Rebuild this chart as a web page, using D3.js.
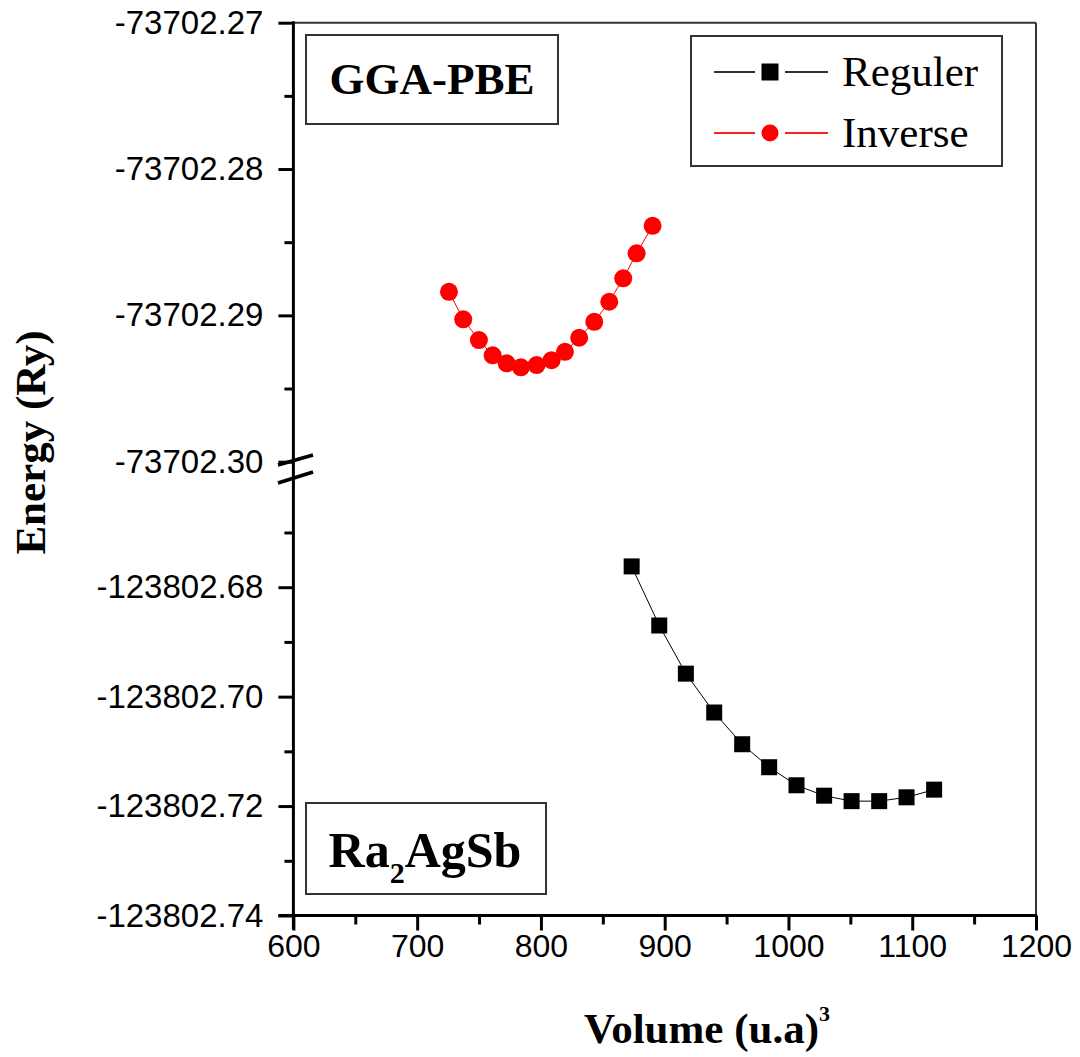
<!DOCTYPE html>
<html><head><meta charset="utf-8">
<script src="https://cdn.jsdelivr.net/npm/d3@7"></script>
<style>html,body{margin:0;padding:0;background:#fff}</style>
</head><body>
<svg id="c" width="1080" height="1057"></svg>
<script>
// ---- data ----
const regularVolume = [873.3, 895.6, 917.1, 940.0, 962.6, 984.4, 1006.5, 1028.8, 1051.0, 1073.3, 1095.4, 1117.7];
const regularEnergy = [-123802.6762, -123802.6870, -123802.6958, -123802.7029, -123802.7087, -123802.7129, -123802.7162, -123802.7181, -123802.7191, -123802.7191, -123802.7184, -123802.7170];
const inverseVolume = [725.7, 737.2, 749.9, 761.0, 772.3, 783.8, 796.5, 808.6, 819.4, 830.9, 843.1, 855.2, 866.5, 877.3, 890.2];
const inverseEnergy = [-73702.28839, -73702.29027, -73702.29169, -73702.29273, -73702.29328, -73702.29355, -73702.29340, -73702.29306, -73702.29249, -73702.29153, -73702.29044, -73702.28907, -73702.28747, -73702.28576, -73702.28388];
const xTicks = [600, 700, 800, 900, 1000, 1100, 1200];
const xMinorTicks = [650, 750, 850, 950, 1050, 1150];
const yUpperTicks = [-73702.27, -73702.28, -73702.29, -73702.30];
const yUpperMinor = [-73702.275, -73702.285, -73702.295];
const yLowerTicks = [-123802.68, -123802.70, -123802.72, -123802.74];
const yLowerMinor = [-123802.67, -123802.69, -123802.71, -123802.73];
const seriesNames = ["Reguler", "Inverse"];

// ---- layout ----
const svg = d3.select("#c");
const L = 293.4, R = 1036, T = 22.7, B = 915.5;
const x = d3.scaleLinear().domain([600, 1200]).range([L, R]);
const yUp = d3.scaleLinear().domain([-73702.30, -73702.27]).range([461.7, T]);
const yLo = d3.scaleLinear().domain([-123802.74, -123802.68]).range([B, 587.2]);

const tickFont = "'Liberation Sans', Arial, sans-serif";
const serif = "'Liberation Serif', 'Times New Roman', serif";
const fmt2 = v => d3.format(".2f")(v).replace("\u2212", "-");

// frame (top/right thin)
svg.append("line").attr("x1", L).attr("x2", R).attr("y1", T).attr("y2", T).attr("stroke", "#333").attr("stroke-width", 2);
svg.append("line").attr("x1", R).attr("x2", R).attr("y1", T).attr("y2", B).attr("stroke", "#333").attr("stroke-width", 2);

function styleAxis(g, size) {
  g.select(".domain").remove();
  g.selectAll(".tick line").attr("stroke", "#000").attr("stroke-width", 3);
  g.selectAll(".tick text").attr("font-family", tickFont).attr("font-size", size).attr("fill", "#000");
}

// x axis
const gx = svg.append("g").attr("transform", `translate(0,${B})`)
  .call(d3.axisBottom(x).tickValues(xTicks).tickSize(15).tickPadding(4).tickFormat(d3.format("d")));
styleAxis(gx, 32);
const gxm = svg.append("g").attr("transform", `translate(0,${B})`)
  .call(d3.axisBottom(x).tickValues(xMinorTicks).tickSize(9).tickFormat(""));
styleAxis(gxm, 32);

// y axes (broken)
const gyu = svg.append("g").attr("transform", `translate(${L},0)`)
  .call(d3.axisLeft(yUp).tickValues(yUpperTicks).tickSize(15).tickPadding(15).tickFormat(fmt2));
styleAxis(gyu, 33);
const gyum = svg.append("g").attr("transform", `translate(${L},0)`)
  .call(d3.axisLeft(yUp).tickValues(yUpperMinor).tickSize(9).tickFormat(""));
styleAxis(gyum, 33);
const gyl = svg.append("g").attr("transform", `translate(${L},0)`)
  .call(d3.axisLeft(yLo).tickValues(yLowerTicks).tickSize(15).tickPadding(15).tickFormat(fmt2));
styleAxis(gyl, 33);
const gylm = svg.append("g").attr("transform", `translate(${L},0)`)
  .call(d3.axisLeft(yLo).tickValues(yLowerMinor).tickSize(9).tickFormat(""));
styleAxis(gylm, 33);

// axis lines
svg.append("line").attr("x1", L).attr("x2", L).attr("y1", T - 1.5).attr("y2", B + 14).attr("stroke", "#000").attr("stroke-width", 3);
svg.append("line").attr("x1", L - 15).attr("x2", R + 1).attr("y1", B).attr("y2", B).attr("stroke", "#000").attr("stroke-width", 3);

// break marks
[[465, 455], [483, 472]].forEach(([y1, y2]) => {
  svg.append("line").attr("x1", 278).attr("y1", y1).attr("x2", 313).attr("y2", y2)
    .attr("stroke", "#000").attr("stroke-width", 3.5);
});

// series lines
const reg = regularVolume.map((v, i) => [v, regularEnergy[i]]);
const inv = inverseVolume.map((v, i) => [v, inverseEnergy[i]]);
svg.append("path").datum(reg)
  .attr("d", d3.line().x(d => x(d[0])).y(d => yLo(d[1])))
  .attr("fill", "none").attr("stroke", "#000").attr("stroke-width", 1);
svg.append("path").datum(inv)
  .attr("d", d3.line().x(d => x(d[0])).y(d => yUp(d[1])))
  .attr("fill", "none").attr("stroke", "#ff0000").attr("stroke-width", 1);

// markers
const sq = 16;
svg.append("g").selectAll("rect").data(reg).join("rect")
  .attr("x", d => x(d[0]) - sq / 2).attr("y", d => yLo(d[1]) - sq / 2)
  .attr("width", sq).attr("height", sq).attr("fill", "#000");
svg.append("g").selectAll("circle").data(inv).join("circle")
  .attr("cx", d => x(d[0])).attr("cy", d => yUp(d[1])).attr("r", 9).attr("fill", "#ff0000");

// legend
const lg = svg.append("g");
lg.append("rect").attr("x", 691).attr("y", 36).attr("width", 311).attr("height", 130)
  .attr("fill", "#fff").attr("stroke", "#333").attr("stroke-width", 2);
const legendRows = [
  { name: seriesNames[0], color: "#000", line: "#333", shape: "square", y: 72 },
  { name: seriesNames[1], color: "#ff0000", line: "#ff2020", shape: "circle", y: 133 }
];
legendRows.forEach(r => {
  [[714, 755], [785, 828]].forEach(([a, b]) => {
    lg.append("line").attr("x1", a).attr("x2", b).attr("y1", r.y).attr("y2", r.y)
      .attr("stroke", r.line).attr("stroke-width", 2);
  });
  if (r.shape === "square") {
    lg.append("rect").attr("x", 770 - 8.5).attr("y", r.y - 8.5).attr("width", 17).attr("height", 17).attr("fill", r.color);
  } else {
    lg.append("circle").attr("cx", 770).attr("cy", r.y).attr("r", 8.5).attr("fill", r.color);
  }
  lg.append("text").attr("x", 842).attr("y", r.y).attr("dy", "0.33em")
    .attr("font-family", serif).attr("font-size", 43).attr("fill", "#000").text(r.name);
});

// annotation boxes
svg.append("rect").attr("x", 306).attr("y", 35).attr("width", 252).attr("height", 89)
  .attr("fill", "#fff").attr("stroke", "#333").attr("stroke-width", 2);
svg.append("text").attr("x", 432).attr("y", 94).attr("text-anchor", "middle")
  .attr("font-family", serif).attr("font-weight", "bold").attr("font-size", 45).text("GGA-PBE");

svg.append("rect").attr("x", 306).attr("y", 803).attr("width", 240).attr("height", 91)
  .attr("fill", "#fff").attr("stroke", "#333").attr("stroke-width", 2);
const ra = svg.append("text").attr("x", 425).attr("y", 867).attr("text-anchor", "middle")
  .attr("font-family", serif).attr("font-weight", "bold").attr("font-size", 50);
ra.append("tspan").text("Ra");
ra.append("tspan").attr("font-size", 30).attr("dy", 16).text("2");
ra.append("tspan").attr("dy", -16).text("AgSb");

// axis titles
svg.append("text").attr("transform", "translate(45,442.5) rotate(-90)").attr("text-anchor", "middle")
  .attr("font-family", serif).attr("font-weight", "bold").attr("font-size", 43).text("Energy (Ry)");
const xt = svg.append("text").attr("x", 707).attr("y", 1043).attr("text-anchor", "middle")
  .attr("font-family", serif).attr("font-weight", "bold").attr("font-size", 43);
xt.append("tspan").text("Volume (u.a)");
xt.append("tspan").attr("font-size", 22).attr("dy", -22).text("3");
</script>
</body></html>
